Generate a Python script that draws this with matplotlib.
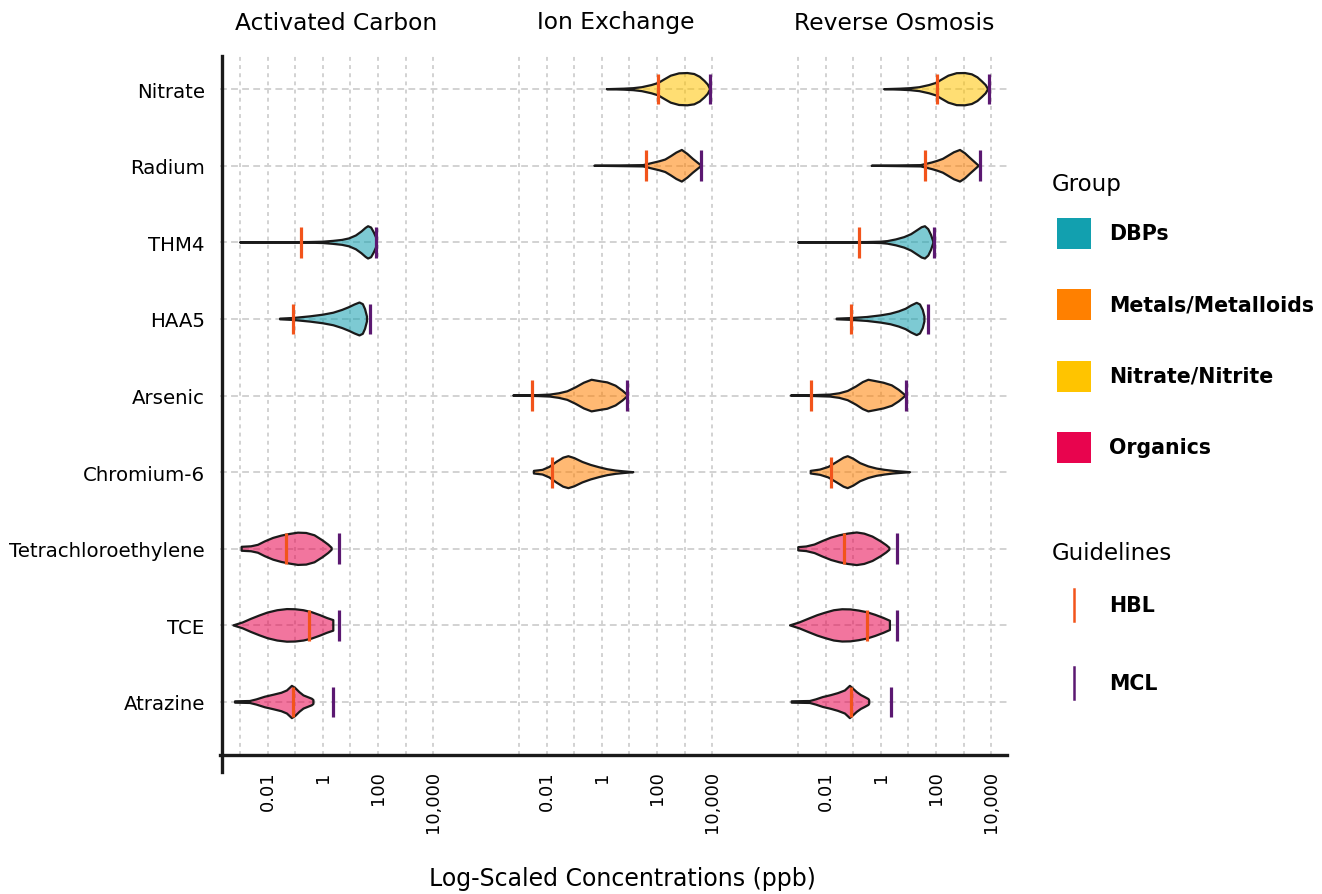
import numpy as np
import matplotlib
import matplotlib.pyplot as plt
import matplotlib.transforms as mtransforms
from matplotlib.colors import to_rgba
from matplotlib.lines import Line2D
from matplotlib.patches import Rectangle

W, H = 1322, 895

# rows from bottom to top
contaminants = ["Atrazine", "TCE", "Tetrachloroethylene", "Chromium-6", "Arsenic",
                "HAA5", "THM4", "Radium", "Nitrate"]
treatments = ["Activated Carbon", "Ion Exchange", "Reverse Osmosis"]

groups = ["DBPs", "Metals/Metalloids", "Nitrate/Nitrite", "Organics"]
group_colors = ["#12A0AF", "#FF8000", "#FFC400", "#E8044E"]
contaminant_group = {"Nitrate": "Nitrate/Nitrite", "Radium": "Metals/Metalloids",
                     "THM4": "DBPs", "HAA5": "DBPs", "Arsenic": "Metals/Metalloids",
                     "Chromium-6": "Metals/Metalloids", "Tetrachloroethylene": "Organics",
                     "TCE": "Organics", "Atrazine": "Organics"}

# guideline levels (ppb)
hbl_ppb = {"Nitrate": 110, "Radium": 40, "THM4": 0.16, "HAA5": 0.08, "Arsenic": 0.003,
           "Chromium-6": 0.016, "Tetrachloroethylene": 0.048, "TCE": 0.32, "Atrazine": 0.08}
mcl_ppb = {"Nitrate": 8500, "Radium": 4000, "THM4": 82, "HAA5": 50, "Arsenic": 8,
           "Tetrachloroethylene": 4, "TCE": 4, "Atrazine": 2.3}

# violin outlines: log10(ppb) knots and relative half-width
ac_shapes = {
    "THM4": ([-3.0, -0.5, 0.0, 0.37, 0.7, 0.95, 1.2, 1.4, 1.55, 1.64, 1.75, 1.85, 1.93, 1.96],
             [0, 0.02, 0.04, 0.09, 0.15, 0.24, 0.42, 0.66, 0.88, 0.98, 0.9, 0.6, 0.3, 0.08]),
    "HAA5": ([-1.55, -1.07, -0.46, 0.0, 0.38, 0.7, 0.95, 1.15, 1.33, 1.45, 1.53, 1.6],
             [0.02, 0.06, 0.16, 0.26, 0.38, 0.55, 0.72, 0.88, 1.0, 0.9, 0.6, 0.15]),
    "Tetrachloroethylene": ([-2.94, -2.6, -2.35, -2.1, -1.8, -1.5, -1.2, -0.9, -0.6, -0.3,
                             0.0, 0.2, 0.32],
                            [0.12, 0.15, 0.24, 0.45, 0.66, 0.8, 0.9, 0.98, 0.96, 0.82,
                             0.5, 0.25, 0.06]),
    "TCE": ([-3.24, -2.9, -2.6, -2.3, -2.0, -1.65, -1.3, -1.0, -0.7, -0.4, -0.1, 0.15, 0.38],
            [0, 0.18, 0.4, 0.6, 0.78, 0.92, 0.99, 0.98, 0.92, 0.8, 0.62, 0.45, 0.32]),
    "Atrazine": ([-3.18, -2.64, -2.4, -2.1, -1.79, -1.5, -1.3, -1.12, -1.0, -0.85, -0.7,
                  -0.55, -0.4, -0.34],
                 [0.04, 0.06, 0.16, 0.32, 0.44, 0.56, 0.7, 0.98, 0.85, 0.6, 0.4, 0.3,
                  0.2, 0.12]),
}
ie_shapes = {
    "Nitrate": ([0.18, 0.8, 1.14, 1.45, 1.8, 2.05, 2.25, 2.5, 2.8, 3.1, 3.35, 3.55, 3.72,
                 3.84, 3.92],
                [0, 0.03, 0.06, 0.12, 0.25, 0.38, 0.58, 0.82, 0.96, 0.98, 0.92, 0.75, 0.5,
                 0.28, 0.02]),
    "Radium": ([-0.27, 1.5, 1.7, 1.9, 2.1, 2.3, 2.5, 2.7, 2.9, 3.1, 3.3, 3.5, 3.62],
               [0, 0.04, 0.12, 0.2, 0.28, 0.38, 0.58, 0.8, 0.96, 0.72, 0.42, 0.15, 0.0]),
    "Arsenic": ([-3.21, -2.3, -1.88, -1.55, -1.25, -0.95, -0.65, -0.37, -0.1, 0.2, 0.5,
                 0.75, 0.94],
                [0, 0.03, 0.06, 0.14, 0.26, 0.5, 0.78, 0.96, 0.88, 0.8, 0.6, 0.3, 0.02]),
    "Chromium-6": ([-2.46, -2.15, -1.9, -1.65, -1.4, -1.21, -1.0, -0.7, -0.4, -0.1, 0.2,
                    0.5, 0.8, 1.14],
                   [0.08, 0.14, 0.32, 0.62, 0.88, 0.97, 0.86, 0.62, 0.44, 0.3, 0.18,
                    0.1, 0.05, 0.0]),
}
ro_shapes = {
    "Nitrate": ([0.12, 0.7, 1.06, 1.4, 1.75, 2.0, 2.2, 2.45, 2.75, 3.05, 3.3, 3.5, 3.66,
                 3.8, 3.88],
                [0, 0.03, 0.06, 0.12, 0.25, 0.38, 0.58, 0.82, 0.97, 0.98, 0.9, 0.72, 0.48,
                 0.25, 0.02]),
    "Radium": ([-0.33, 1.45, 1.65, 1.85, 2.05, 2.25, 2.45, 2.65, 2.87, 3.05, 3.25, 3.45,
                3.55],
               [0, 0.04, 0.12, 0.2, 0.3, 0.42, 0.62, 0.82, 0.96, 0.76, 0.45, 0.15, 0.0]),
    "THM4": ([-3.0, -0.5, 0.0, 0.25, 0.55, 0.85, 1.1, 1.3, 1.48, 1.6, 1.72, 1.82, 1.9],
             [0, 0.02, 0.04, 0.08, 0.18, 0.32, 0.5, 0.72, 0.92, 0.98, 0.8, 0.45, 0.05]),
    "HAA5": ([-1.6, -1.14, -0.5, 0.0, 0.35, 0.65, 0.9, 1.1, 1.3, 1.42, 1.52, 1.58],
             [0.02, 0.05, 0.12, 0.22, 0.32, 0.46, 0.62, 0.82, 0.98, 0.88, 0.55, 0.15]),
    "Arsenic": ([-3.26, -2.4, -1.84, -1.5, -1.2, -0.9, -0.65, -0.45, -0.2, 0.1, 0.4, 0.65,
                 0.88],
                [0, 0.03, 0.06, 0.14, 0.28, 0.55, 0.82, 0.96, 0.88, 0.78, 0.62, 0.35,
                 0.03]),
    "Chromium-6": ([-2.54, -2.2, -1.9, -1.6, -1.35, -1.2, -1.0, -0.75, -0.45, -0.15, 0.15,
                    0.45, 0.75, 1.06],
                   [0.08, 0.16, 0.32, 0.62, 0.88, 0.97, 0.82, 0.55, 0.35, 0.22, 0.14,
                    0.08, 0.04, 0.0]),
    "Tetrachloroethylene": ([-2.99, -2.7, -2.4, -2.1, -1.8, -1.5, -1.2, -0.87, -0.6, -0.3,
                             0.0, 0.2, 0.31],
                            [0.1, 0.14, 0.26, 0.48, 0.68, 0.82, 0.92, 0.99, 0.92, 0.74,
                             0.45, 0.22, 0.06]),
    "TCE": ([-3.29, -2.95, -2.6, -2.3, -2.0, -1.7, -1.4, -1.1, -0.8, -0.5, -0.2, 0.1, 0.33],
            [0, 0.18, 0.42, 0.62, 0.78, 0.92, 0.98, 0.97, 0.9, 0.8, 0.64, 0.45, 0.28]),
    "Atrazine": ([-3.23, -2.57, -2.35, -2.1, -1.8, -1.55, -1.3, -1.12, -1.0, -0.87, -0.72,
                  -0.58, -0.45, -0.42],
                 [0.04, 0.06, 0.16, 0.3, 0.42, 0.54, 0.7, 0.98, 0.8, 0.6, 0.42, 0.3,
                  0.18, 0.1]),
}
panel_shapes = [ac_shapes, ie_shapes, ro_shapes]

major_ticks = [0.01, 1, 100, 10000]
major_labels = ["0.01", "1", "100", "10,000"]
minor_ticks = [0.001, 0.1, 10, 1000]

HBL_COLOR = "#F2541B"
MCL_COLOR = "#5B1871"
GRID_COLOR = "#D2D2D2"
MAX_HALF = 0.215

fig = plt.figure(figsize=(W / 100, H / 100), dpi=100)


def fx(px):
    return px / W


def fy(py):
    return 1 - py / H


# panel placement in pixels (left, right), shared bottom/top
panel_px = [(220, 499), (499, 778), (778, 1007)]
top_px, bot_px = 57, 756
log_left, px_per_dec = -3.725, 27.6

color_of = dict(zip(groups, group_colors))

for p, (x0, x1) in enumerate(panel_px):
    ax = fig.add_axes([fx(x0), fy(bot_px), (x1 - x0) / W, (bot_px - top_px) / H])
    ax.set_xscale("log")
    ax.set_xlim(10 ** log_left, 10 ** (log_left + (x1 - x0) / px_per_dec))
    ax.set_ylim(-0.692, 8.433)
    ax.set_xticks(major_ticks)
    ax.set_xticklabels(major_labels, rotation=90, fontsize=13)
    ax.set_xticks(minor_ticks, minor=True)
    ax.xaxis.set_minor_formatter(matplotlib.ticker.NullFormatter())
    ax.set_yticks(range(len(contaminants)))
    if p == 0:
        ax.set_yticklabels(contaminants, fontsize=14.2)
    else:
        ax.set_yticklabels([])
    ax.tick_params(axis="both", which="both", length=0)
    ax.tick_params(axis="x", pad=11)
    ax.tick_params(axis="y", pad=11)
    ax.grid(which="both", axis="x", color=GRID_COLOR, linestyle=(0, (2, 2.2)), linewidth=1.4)
    ax.grid(which="major", axis="y", color=GRID_COLOR, linestyle=(0, (3.5, 2.2)), linewidth=1.4)
    ax.set_axisbelow(True)
    for s in ax.spines.values():
        s.set_visible(False)
    ax.patch.set_alpha(0)

    for name, (lx, w) in panel_shapes[p].items():
        y = contaminants.index(name)
        xs = np.power(10.0, np.array(lx))
        hw = np.array(w) * MAX_HALF
        col = color_of[contaminant_group[name]]
        ax.fill(np.concatenate([xs, xs[::-1]]),
                np.concatenate([y + hw, (y - hw)[::-1]]),
                facecolor=to_rgba(col, 0.55), edgecolor="#1a1a1a", linewidth=1.6,
                joinstyle="round", zorder=3)
        ax.plot([hbl_ppb[name]] * 2, [y - 0.2, y + 0.2], color=HBL_COLOR, lw=2.3,
                solid_capstyle="butt", zorder=4)
        if name in mcl_ppb:
            ax.plot([mcl_ppb[name]] * 2, [y - 0.2, y + 0.2], color=MCL_COLOR, lw=2.3,
                    solid_capstyle="butt", zorder=4)

    trans = mtransforms.blended_transform_factory(ax.transData, fig.transFigure)
    ax.text(10 ** 0.5, fy(23), treatments[p], transform=trans, ha="center", va="center",
            fontsize=16.8)

# axis lines
fig.add_artist(Line2D([fx(221.5), fx(221.5)], [fy(57), fy(773)], color="#1a1a1a", lw=2.4))
fig.add_artist(Line2D([fx(220), fx(1007)], [fy(756), fy(756)], color="#1a1a1a", lw=2.4))

fig.text(fx(622), fy(879), "Log-Scaled Concentrations (ppb)", ha="center", va="center",
         fontsize=17)

# legend
fig.text(fx(1052), fy(185), "Group", ha="left", va="center", fontsize=16.5)
for i, (g, c) in enumerate(zip(groups, group_colors)):
    cy = 234 + i * 71.5
    fig.add_artist(Rectangle((fx(1057), fy(cy + 15.5)), 34 / W, 31 / H, facecolor=c,
                             edgecolor="none", transform=fig.transFigure))
    fig.text(fx(1109), fy(cy), g, ha="left", va="center", fontsize=14.8, fontweight="bold")

fig.text(fx(1052), fy(554), "Guidelines", ha="left", va="center", fontsize=16.5)
for i, (lab, c) in enumerate([("HBL", HBL_COLOR), ("MCL", MCL_COLOR)]):
    cy = 606 + i * 78
    fig.add_artist(Line2D([fx(1074), fx(1074)], [fy(cy - 16), fy(cy + 16)], color=c, lw=1.8))
    fig.text(fx(1109), fy(cy), lab, ha="left", va="center", fontsize=14.8, fontweight="bold")

fig.savefig("out.png", dpi=100)
